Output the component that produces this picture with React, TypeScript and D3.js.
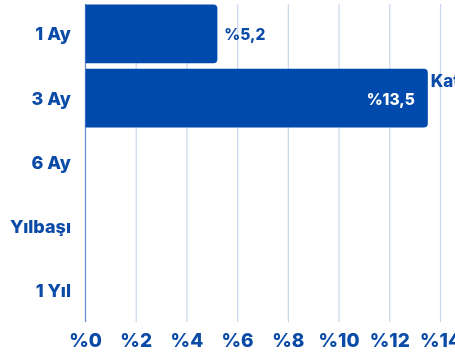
import React from "react";
import * as d3 from "d3";

const categories = ["1 Ay", "3 Ay", "6 Ay", "Yılbaşı", "1 Yıl"];
const values: (number | null)[] = [5.2, 13.5, null, null, null];
const valueLabels = ["%5,2", "%13,5", "", "", ""];
const xTicks = [0, 2, 4, 6, 8, 10, 12, 14];
const seriesName = "Katılım";

const W = 455;
const H = 356;
const margin = { left: 85.5, right: 14.5, top: 2, bottom: 33.5 };
const BLUE = "#004AAD";
const TEXT = "#0B4BA8";
const FONT = "Inter, 'Open Sans', sans-serif";

function barPath(x0: number, y0: number, x1: number, h: number, r: number) {
  const rr = Math.min(r, (x1 - x0) / 2, h / 2);
  return `M${x0},${y0}H${x1 - rr}Q${x1},${y0} ${x1},${y0 + rr}V${y0 + h - rr}Q${x1},${y0 + h} ${x1 - rr},${y0 + h}H${x0}Z`;
}

export default function App() {
  const x = d3.scaleLinear().domain([0, 14]).range([margin.left, W - margin.right]);
  const y = d3
    .scaleBand<string>()
    .domain(categories)
    .range([margin.top, H - margin.bottom])
    .paddingInner(0.085)
    .paddingOuter(0.04);
  const gridBottom = 322;
  return (
    <div style={{ position: "fixed", left: 0, top: 0 }}>
      <svg width={W} height={H} style={{ display: "block", fontFamily: FONT }}>
        {xTicks.slice(1).map((t) => (
          <line key={t} x1={x(t)} x2={x(t)} y1={margin.top + 2} y2={gridBottom} stroke="#C9D7EE" strokeWidth={1.2} />
        ))}
        <line x1={x(0)} x2={x(0)} y1={margin.top + 2} y2={gridBottom} stroke="#6B8FD0" strokeWidth={1.3} />
        {categories.map((c, i) => {
          const v = values[i];
          const y0 = y(c)!;
          const bh = y.bandwidth();
          const cy = y0 + bh / 2;
          return (
            <g key={c}>
              <text x={71} y={cy} textAnchor="end" dominantBaseline="central" fontSize={18} fontWeight={800} fill={TEXT}>
                {c}
              </text>
              {v != null && (
                <path d={barPath(x(0), y0, x(v), bh, 4)} fill={BLUE} />
              )}
              {v != null && v < 8 && (
                <text x={x(v) + 7} y={cy + 1} dominantBaseline="central" fontSize={15.5} fontWeight={800} fill={TEXT}>
                  {valueLabels[i]}
                </text>
              )}
              {v != null && v >= 8 && (
                <text x={x(v) - 13} y={cy + 1} textAnchor="end" dominantBaseline="central" fontSize={15.5} fontWeight={800} fill="#ffffff">
                  {valueLabels[i]}
                </text>
              )}
            </g>
          );
        })}
        <text x={x(values[1] as number) + 3} y={y(categories[1])! + 12} dominantBaseline="central" fontSize={17} fontWeight={800} fill={TEXT}>
          {seriesName}
        </text>
        {xTicks.map((t) => (
          <text key={t} x={x(t)} y={340} textAnchor="middle" dominantBaseline="central" fontSize={19} fontWeight={800} fill={TEXT}>
            {`%${t}`}
          </text>
        ))}
      </svg>
    </div>
  );
}
